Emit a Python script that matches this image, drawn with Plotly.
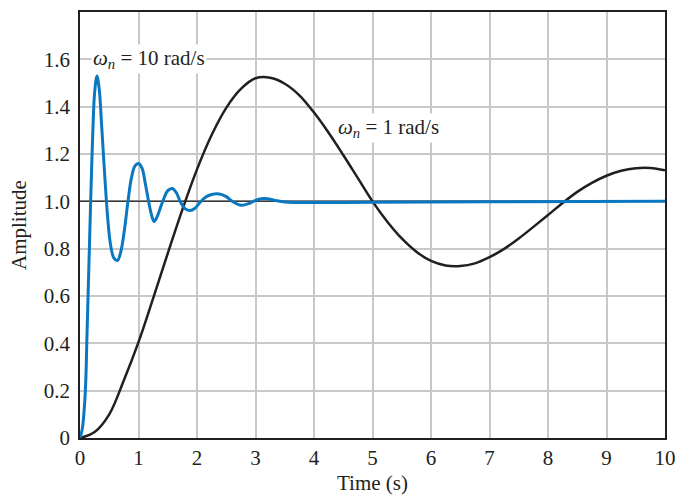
import plotly.graph_objects as go

# Black curve: omega_n = 1 rad/s
t_slow = [0, 0.25, 0.5, 0.75, 1.0, 1.25, 1.5, 1.75, 2.0, 2.25, 2.5, 2.75, 3.0, 3.25,
          3.5, 3.75, 4.0, 4.25, 4.5, 4.75, 5.0, 5.25, 5.5, 5.75, 6.0, 6.25, 6.5, 6.75,
          7.0, 7.25, 7.5, 7.75, 8.0, 8.25, 8.5, 8.75, 9.0, 9.25, 9.5, 9.75, 10.0]
y_slow = [0, 0.025, 0.10, 0.244, 0.405, 0.59, 0.78, 0.965, 1.135, 1.28, 1.395, 1.475,
          1.52, 1.522, 1.497, 1.448, 1.375, 1.29, 1.196, 1.098, 1.0, 0.915, 0.843,
          0.787, 0.748, 0.729, 0.727, 0.738, 0.764, 0.799, 0.843, 0.892, 0.942, 0.993,
          1.04, 1.078, 1.108, 1.129, 1.14, 1.141, 1.131]

# Blue curve: omega_n = 10 rad/s
t_fast = [0, 0.04, 0.08, 0.1, 0.12, 0.14, 0.16, 0.18, 0.2, 0.22, 0.25, 0.29, 0.33,
          0.37, 0.42, 0.47, 0.52, 0.58, 0.64, 0.70, 0.76, 0.82, 0.88, 0.94, 1.0, 1.06,
          1.12, 1.18, 1.22, 1.265, 1.31, 1.37, 1.43, 1.5, 1.578, 1.65, 1.72, 1.8, 1.88,
          1.96, 2.05, 2.15, 2.25, 2.38, 2.5, 2.62, 2.76, 2.9, 3.0, 3.1, 3.2, 3.35, 3.5,
          3.7, 5.0, 7.0, 10.0]
y_fast = [0, 0.04, 0.15, 0.25, 0.44, 0.62, 0.80, 0.98, 1.15, 1.30, 1.46, 1.53, 1.47,
          1.32, 1.12, 0.94, 0.82, 0.76, 0.75, 0.79, 0.88, 1.00, 1.10, 1.15, 1.16, 1.14,
          1.07, 0.99, 0.945, 0.915, 0.93, 0.97, 1.01, 1.045, 1.054, 1.035, 0.995, 0.968,
          0.961, 0.97, 0.995, 1.018, 1.029, 1.031, 1.02, 0.997, 0.983, 0.992, 1.004,
          1.011, 1.011, 1.003, 0.997, 0.995, 0.996, 0.998, 1.0]

x_ticks = [0, 1, 2, 3, 4, 5, 6, 7, 8, 9, 10]
y_ticks = [0, 0.2, 0.4, 0.6, 0.8, 1.0, 1.2, 1.4, 1.6]
y_tick_labels = ["0", "0.2", "0.4", "0.6", "0.8", "1.0", "1.2", "1.4", "1.6"]
ref_level = 1.0

font_family = "Liberation Serif, Times New Roman, serif"
ink = "#231f20"

fig = go.Figure()
fig.add_trace(go.Scatter(x=[0, 10], y=[ref_level, ref_level], mode="lines",
                         line=dict(color="#3a3a3a", width=1.5), hoverinfo="skip",
                         showlegend=False))
fig.add_trace(go.Scatter(x=t_slow, y=y_slow, mode="lines", line_shape="spline",
                         line=dict(color=ink, width=2.5), showlegend=False))
fig.add_trace(go.Scatter(x=t_fast, y=y_fast, mode="lines", line_shape="spline",
                         line=dict(color="#0a78c0", width=3), showlegend=False))

fig.add_annotation(x=1.18, y=1.6, xref="x", yref="y",
                   text="<i>ω</i><sub><i>n</i></sub> = 10 rad/s", showarrow=False,
                   bgcolor="white", font=dict(family=font_family, size=21, color=ink),
                   borderpad=1)
fig.add_annotation(x=5.27, y=1.31, xref="x", yref="y",
                   text="<i>ω</i><sub><i>n</i></sub> = 1 rad/s", showarrow=False,
                   bgcolor="white", font=dict(family=font_family, size=21, color=ink),
                   borderpad=1)

# axis titles
fig.add_annotation(x=0, y=0.5, xref="paper", yref="paper", xshift=-61,
                   xanchor="center", yanchor="middle",
                   text="Amplitude", textangle=-90, showarrow=False,
                   font=dict(family=font_family, size=21, color=ink))
fig.add_annotation(x=0.5, y=0, xref="paper", yref="paper", yshift=-45,
                   xanchor="center", yanchor="middle",
                   text="Time (s)", showarrow=False,
                   font=dict(family=font_family, size=21, color=ink))

fig.update_layout(
    width=676, height=496,
    margin=dict(l=80, r=11, t=12, b=58, autoexpand=False),
    paper_bgcolor="white", plot_bgcolor="white",
    font=dict(family=font_family, size=21, color=ink),
)
fig.update_xaxes(range=[0, 10], tickvals=x_ticks, showgrid=True, gridcolor="#c8c8c8",
                 gridwidth=1.5, showline=True, linecolor=ink, linewidth=1.5,
                 mirror=True, ticks="", zeroline=False, automargin=False,
                 tickfont=dict(size=21))
fig.update_yaxes(range=[0, 1.8], tickvals=y_ticks, ticktext=y_tick_labels, showgrid=True,
                 gridcolor="#c8c8c8", gridwidth=1.5, showline=True, linecolor=ink,
                 linewidth=1.5, mirror=True, ticks="", zeroline=False, automargin=False,
                 tickfont=dict(size=21), ticklabelstandoff=4)

fig.write_html("out.html", config={"displayModeBar": False},
               post_script="document.body.style.margin='0';document.body.style.overflow='hidden';")
